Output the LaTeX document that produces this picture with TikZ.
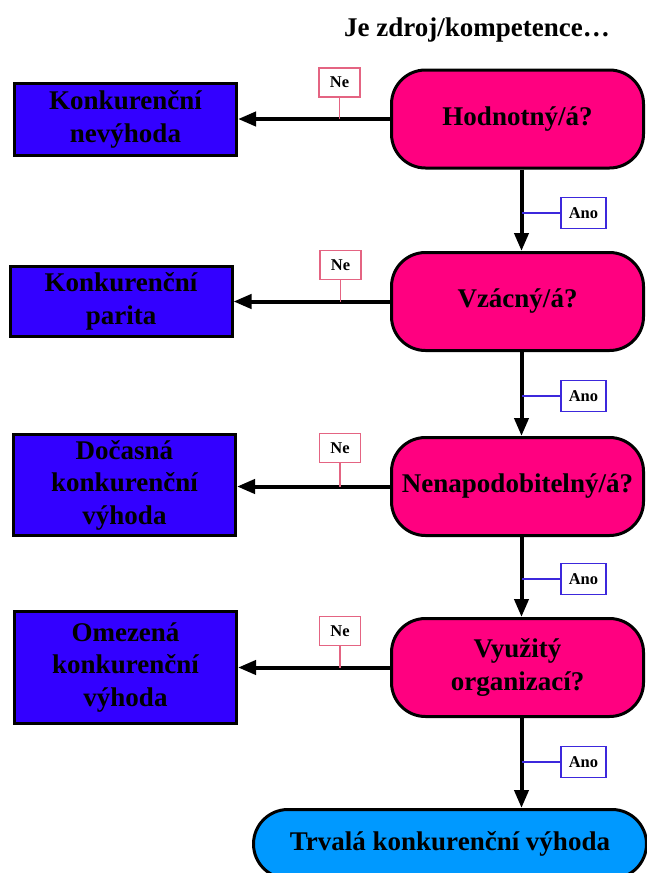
\documentclass[tikz,border=0pt]{standalone}
\usepackage{fontspec}
\setmainfont{Liberation Serif}
\usetikzlibrary{arrows.meta}
\definecolor{boxblue}{RGB}{51,0,255}
\definecolor{decpink}{RGB}{255,0,128}
\definecolor{endblue}{RGB}{0,153,255}
\definecolor{nered}{RGB}{228,100,130}
\definecolor{anoblue}{RGB}{60,40,220}
\begin{document}
\begin{tikzpicture}[x=1pt, y=-1pt,
		font=\bfseries\fontsize{27}{32.5}\selectfont,
		result/.style={draw, line width=3pt, fill=boxblue, align=center, inner sep=0pt, minimum width=222pt},
		question/.style={draw, line width=3pt, fill=decpink, rounded corners=34pt, align=center, inner sep=0pt, minimum width=252pt, minimum height=98pt},
		final/.style={draw, line width=3pt, fill=endblue, rounded corners=34.5pt, inner sep=0pt, minimum width=393pt, minimum height=69pt},
		nelabel/.style={draw=nered, line width=1.2pt, fill=white, inner sep=0pt, minimum width=41pt, minimum height=29pt, font=\bfseries\fontsize{16.5}{18}\selectfont},
		anolabel/.style={draw=anoblue, line width=1.2pt, fill=white, inner sep=0pt, minimum width=45pt, minimum height=31pt, font=\bfseries\fontsize{16.5}{18}\selectfont},
		flow/.style={line width=4pt, -{Triangle[length=18pt,width=14pt]}},
		stem/.style={line width=1.2pt}]
	\useasboundingbox (0,0) rectangle (646,873);
	\coordinate (axis) at (521.5,0);
	% title
	\node (title) at (477,30) {Je zdroj/kompetence…};
	% questions
	\node[question] (hod) at (517.5,119) {Hodnotný/á?};
	\node[question] (vza) at (517.5,301.5) {Vzácný/á?};
	\node[question] (nen) at (517.5,486.5) {Nenapodobitelný/á?};
	\node[question] (vyu) at (517.5,667.5) {Využitý\\organizací?};
	\node[final] (trv) at (450,844) {Trvalá konkurenční výhoda};
	% results
	\node[result, minimum height=72pt] (k1) at (125.5,119.5) {Konkurenční\\nevýhoda};
	\node[result, minimum height=70pt] (k2) at (121,301.5) {Konkurenční\\parita};
	\node[result, minimum height=101pt] (k3) at (124.5,485) {Dočasná\\konkurenční\\výhoda};
	\node[result, minimum height=112pt] (k4) at (125.5,667.5) {Omezená\\konkurenční\\výhoda};
	% Ne
	\draw[flow] (hod.west) -- (hod.west -| k1.east);
	\draw[flow] (vza.west) -- (vza.west -| k2.east);
	\draw[flow] (nen.west) -- (nen.west -| k3.east);
	\draw[flow] (vyu.west) -- (vyu.west -| k4.east);
	\node[nelabel] (ne1) at (339.5,82.5) {Ne};
	\node[nelabel] (ne2) at (340.5,265) {Ne};
	\node[nelabel] (ne3) at (340,448) {Ne};
	\node[nelabel] (ne4) at (340,631) {Ne};
	\draw[stem, nered] (ne1.south) -- (ne1.south |- hod.west);
	\draw[stem, nered] (ne2.south) -- (ne2.south |- vza.west);
	\draw[stem, nered] (ne3.south) -- (ne3.south |- nen.west);
	\draw[stem, nered] (ne4.south) -- (ne4.south |- vyu.west);
	% Ano
	\draw[flow] (hod.south -| axis) -- (vza.north -| axis);
	\draw[flow] (vza.south -| axis) -- (nen.north -| axis);
	\draw[flow] (nen.south -| axis) -- (vyu.north -| axis);
	\draw[flow] (vyu.south -| axis) -- (trv.north -| axis);
	\node[anolabel] (ano1) at (583.5,213) {Ano};
	\node[anolabel] (ano2) at (583.5,396) {Ano};
	\node[anolabel] (ano3) at (583.5,579) {Ano};
	\node[anolabel] (ano4) at (583.5,762) {Ano};
	\draw[stem, anoblue] (ano1.west) -- (ano1.west -| axis);
	\draw[stem, anoblue] (ano2.west) -- (ano2.west -| axis);
	\draw[stem, anoblue] (ano3.west) -- (ano3.west -| axis);
	\draw[stem, anoblue] (ano4.west) -- (ano4.west -| axis);
\end{tikzpicture}
\end{document}
